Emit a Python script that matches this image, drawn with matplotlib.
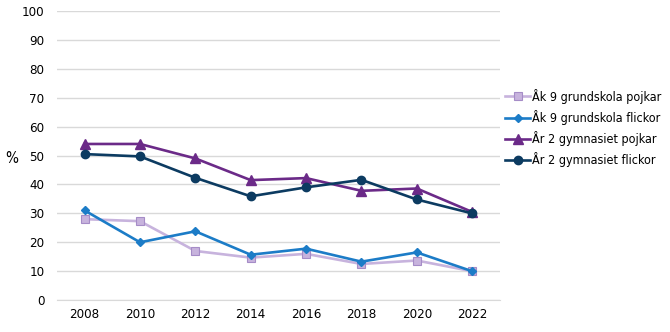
import matplotlib.pyplot as plt

years = ["2008", "2010", "2012", "2014", "2016", "2018", "2020", "2022"]
ak9_pojkar = [28.0, 27.3, 17.0, 14.7, 16.0, 12.5, 13.7, 10.0]
ak9_flickor = [31.0, 20.0, 23.8, 15.7, 17.8, 13.3, 16.5, 10.0]
gym_pojkar = [54.0, 54.0, 49.0, 41.5, 42.2, 37.8, 38.6, 30.5]
gym_flickor = [50.5, 49.7, 42.3, 35.9, 39.0, 41.6, 34.8, 30.0]

labels = ["Åk 9 grundskola pojkar", "Åk 9 grundskola flickor",
          "År 2 gymnasiet pojkar", "År 2 gymnasiet flickor"]

plt.rcParams["font.family"] = "DejaVu Sans"
plt.rcParams["font.stretch"] = "condensed"

fig = plt.figure(figsize=(6.7, 3.32), dpi=100)
ax = fig.add_axes([0.085, 0.096, 0.661, 0.871])

x = range(len(years))
ax.plot(x, ak9_pojkar, color="#C7B3DD", lw=1.9, marker="s", ms=6,
        mfc="#C7B3DD", mec="#A58CC7", mew=0.8, label=labels[0], zorder=3)
ax.plot(x, ak9_flickor, color="#1C7CC7", lw=1.9, marker="D", ms=3.8,
        mfc="#1C7CC7", mec="#1C7CC7", label=labels[1], zorder=4)
ax.plot(x, gym_pojkar, color="#6B2A88", lw=1.9, marker="^", ms=6.5,
        mfc="#6B2A88", mec="#6B2A88", label=labels[2], zorder=3)
ax.plot(x, gym_flickor, color="#0C3B61", lw=1.9, marker="o", ms=6,
        mfc="#0C3B61", mec="#0C3B61", label=labels[3], zorder=4)

ax.set_xlim(-0.5, len(years) - 0.5)
ax.set_ylim(0, 100)
ax.set_yticks(range(0, 101, 10))
ax.set_xticks(list(x))
ax.set_xticklabels(years)
ax.grid(axis="y", color="#D9D9D9", lw=1)
ax.set_axisbelow(True)
for s in ["top", "right", "left"]:
    ax.spines[s].set_visible(False)
ax.spines["bottom"].set_color("#D9D9D9")
ax.tick_params(axis="y", length=0, labelsize=9.5, colors="#000000", pad=9)
ax.tick_params(axis="x", length=0, labelsize=9.5, colors="#000000", pad=6)
ax.set_ylabel("%", rotation=0, fontsize=11, va="center", ha="left")
ax.yaxis.set_label_coords(-0.117, 0.49)

ax.legend(loc="center left", bbox_to_anchor=(1.012, 0.595), frameon=False,
          fontsize=9, handlelength=2.0, handletextpad=0.15,
          labelspacing=0.5, borderaxespad=0, borderpad=0)

fig.savefig("out.png", dpi=100)
